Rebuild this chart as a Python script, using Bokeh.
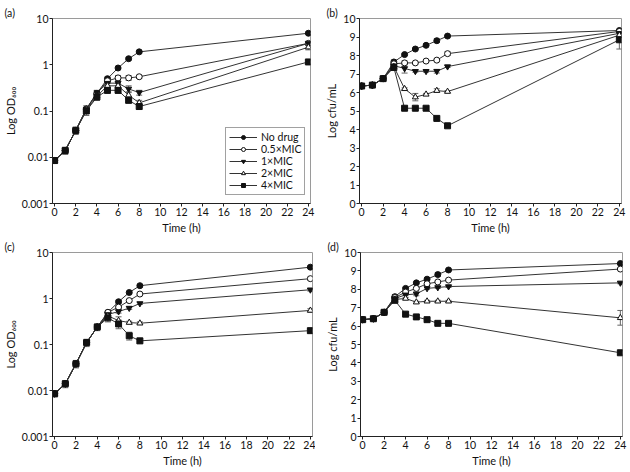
from bokeh.plotting import figure
from bokeh.layouts import column, row
from bokeh.models import (FixedTicker, CustomJSTickFormatter, Whisker, ColumnDataSource,
                          Legend, LegendItem, TeeHead, Range1d)
from bokeh.embed import file_html
from bokeh.resources import INLINE

TIME = [0, 1, 2, 3, 4, 5, 6, 7, 8, 24]
SERIES = ["No drug", "0.5\u00d7MIC", "1\u00d7MIC", "2\u00d7MIC", "4\u00d7MIC"]
X_TICKS = [0, 2, 4, 6, 8, 10, 12, 14, 16, 18, 20, 22, 24]
OD_TICKS = [0.001, 0.01, 0.1, 1, 10]
CFU_TICKS = [0, 1, 2, 3, 4, 5, 6, 7, 8, 9, 10]

# Panel (a): OD600
A_NODRUG = [0.0085, 0.014, 0.038, 0.11, 0.24, 0.50, 0.85, 1.35, 1.9, 4.8]
A_HALF = [0.0085, 0.014, 0.038, 0.11, 0.24, 0.45, 0.52, 0.52, 0.55, 2.9]
A_ONE = [0.0085, 0.014, 0.038, 0.11, 0.25, 0.40, 0.40, 0.30, 0.25, 2.9]
A_TWO = [0.0085, 0.014, 0.038, 0.105, 0.21, 0.35, 0.35, 0.22, 0.15, 2.4]
A_FOUR = [0.0085, 0.014, 0.038, 0.10, 0.20, 0.28, 0.28, 0.17, 0.125, 1.15]
A_ERR_NODRUG = [0.0012, 0.0025, 0.007, 0.02, 0.04, 0.04, 0.06, 0.08, 0.1, 0.3]
A_ERR_HALF = [0, 0, 0, 0, 0, 0.05, 0.06, 0.06, 0.04, 0.3]
A_ERR_ONE = [0, 0, 0, 0, 0, 0.05, 0.05, 0.05, 0.03, 0.3]
A_ERR_TWO = [0, 0, 0, 0, 0, 0.05, 0.04, 0.04, 0.02, 0.3]
A_ERR_FOUR = [0, 0, 0, 0.02, 0.03, 0.04, 0.04, 0.02, 0.015, 0.1]

# Panel (b): cfu
B_NODRUG = [6.35, 6.4, 6.75, 7.65, 8.05, 8.35, 8.55, 8.8, 9.05, 9.35]
B_HALF = [6.35, 6.4, 6.75, 7.55, 7.6, 7.6, 7.7, 7.75, 8.1, 9.3]
B_ONE = [6.35, 6.4, 6.75, 7.45, 7.3, 7.15, 7.15, 7.15, 7.4, 9.2]
B_TWO = [6.35, 6.4, 6.75, 7.4, 6.2, 5.75, 5.9, 6.1, 6.05, 9.1]
B_FOUR = [6.35, 6.4, 6.75, 7.35, 5.15, 5.15, 5.15, 4.6, 4.2, 8.85]
B_ERR_NODRUG = [0.05, 0.05, 0.1, 0.1, 0.05, 0.05, 0.05, 0.1, 0.05, 0.05]
B_ERR_HALF = [0, 0, 0, 0.05, 0.1, 0.05, 0.05, 0.05, 0.1, 0.1]
B_ERR_ONE = [0, 0, 0, 0.05, 0.25, 0.05, 0.05, 0.1, 0.05, 0.1]
B_ERR_TWO = [0, 0, 0, 0.05, 0.05, 0.2, 0.05, 0.1, 0.05, 0.1]
B_ERR_FOUR = [0, 0, 0, 0.05, 0.1, 0.05, 0.05, 0.05, 0.05, 0.5]

# Panel (c): OD600
C_NODRUG = [0.0085, 0.014, 0.038, 0.11, 0.24, 0.50, 0.85, 1.35, 1.9, 4.8]
C_HALF = [0.0085, 0.014, 0.038, 0.11, 0.24, 0.50, 0.65, 0.90, 1.25, 2.7]
C_ONE = [0.0085, 0.014, 0.038, 0.11, 0.24, 0.45, 0.52, 0.62, 0.78, 1.55]
C_TWO = [0.0085, 0.014, 0.038, 0.11, 0.24, 0.42, 0.33, 0.30, 0.29, 0.55]
C_FOUR = [0.0085, 0.014, 0.038, 0.11, 0.24, 0.38, 0.28, 0.155, 0.12, 0.20]
C_ERR_NODRUG = [0.0012, 0.0025, 0.007, 0.02, 0.04, 0.04, 0.06, 0.08, 0.1, 0.3]
C_ERR_HALF = [0, 0, 0, 0, 0, 0.04, 0.05, 0.05, 0.05, 0.2]
C_ERR_ONE = [0, 0, 0, 0, 0, 0.04, 0.04, 0.04, 0.04, 0.1]
C_ERR_TWO = [0, 0, 0, 0, 0, 0.04, 0.07, 0.02, 0.02, 0.05]
C_ERR_FOUR = [0, 0, 0, 0, 0.03, 0.07, 0.06, 0.03, 0.015, 0.02]

# Panel (d): cfu
D_NODRUG = [6.35, 6.4, 6.75, 7.6, 8.05, 8.35, 8.55, 8.8, 9.05, 9.4]
D_HALF = [6.35, 6.4, 6.75, 7.55, 7.85, 8.05, 8.3, 8.4, 8.5, 9.1]
D_ONE = [6.35, 6.4, 6.75, 7.5, 7.7, 7.75, 8.05, 8.1, 8.15, 8.35]
D_TWO = [6.35, 6.4, 6.75, 7.45, 7.5, 7.3, 7.35, 7.35, 7.35, 6.45]
D_FOUR = [6.35, 6.4, 6.75, 7.4, 6.65, 6.5, 6.35, 6.15, 6.15, 4.55]
D_ERR_NODRUG = [0.05, 0.05, 0.1, 0.1, 0.05, 0.05, 0.05, 0.1, 0.05, 0.05]
D_ERR_HALF = [0, 0, 0, 0.05, 0.1, 0.05, 0.05, 0.05, 0.05, 0.05]
D_ERR_ONE = [0, 0, 0, 0.05, 0.05, 0.1, 0.05, 0.05, 0.05, 0.05]
D_ERR_TWO = [0, 0, 0, 0.05, 0.05, 0.05, 0.05, 0.05, 0.05, 0.4]
D_ERR_FOUR = [0, 0, 0, 0.05, 0.12, 0.1, 0.05, 0.05, 0.05, 0.1]

MARKERS = ["circle", "circle", "inverted_triangle", "triangle", "square"]
FILLS = ["#111111", "white", "#111111", "white", "#111111"]

FONT = "Lato"


def make_panel(label, ylog, series, errs, yticks, ylabel, bl, br, bt, bb, lab_off, legend=False):
    kw = dict(width=315, height=236, output_backend="svg", toolbar_location=None,
              x_range=Range1d(-0.2, 24.2), min_border_left=bl, min_border_right=br,
              min_border_top=bt, min_border_bottom=bb, title=label)
    if ylog:
        p = figure(y_axis_type="log", y_range=Range1d(0.001, 10), **kw)
    else:
        p = figure(y_range=Range1d(0, 10), **kw)
    p.title.align = "left"
    p.title.offset = lab_off
    p.title.standoff = 0
    p.title.text_font = FONT
    p.title.text_font_size = "10.5px"
    p.title.text_font_style = "normal"
    p.title.text_color = "#111111"
    p.grid.visible = False
    p.outline_line_color = "#9a9a9a"
    p.background_fill_color = "white"
    p.border_fill_color = "white"
    for ax in (p.xaxis[0], p.yaxis[0]):
        ax.axis_line_color = "#222222"
        ax.major_tick_line_color = "#222222"
        ax.major_tick_out = 3
        ax.major_tick_in = 0
        ax.minor_tick_line_color = None
        ax.major_label_text_font = FONT
        ax.major_label_text_font_size = "10.5px"
        ax.major_label_text_color = "#111111"
        ax.major_label_standoff = 1
        ax.axis_label_text_font = FONT
        ax.axis_label_text_font_size = "11px"
        ax.axis_label_text_font_style = "normal"
        ax.axis_label_text_color = "#111111"
        ax.axis_label_standoff = 2
    p.xaxis.ticker = FixedTicker(ticks=X_TICKS)
    p.yaxis.ticker = FixedTicker(ticks=yticks)
    if ylog:
        p.yaxis.formatter = CustomJSTickFormatter(code="return String(Number(tick.toPrecision(3)));")
    p.xaxis.axis_label = "Time (h)"
    p.yaxis.axis_label = ylabel

    items = []
    for name, ys, es, mk, fc in zip(SERIES, series, errs, MARKERS, FILLS):
        lo = [y - e for y, e in zip(ys, es)]
        hi = [y + e for y, e in zip(ys, es)]
        src = ColumnDataSource(dict(x=TIME, y=ys))
        esrc = ColumnDataSource(dict(x=[t for t, e in zip(TIME, es) if e > 0],
                                     lo=[l for l, e in zip(lo, es) if e > 0],
                                     hi=[h for h, e in zip(hi, es) if e > 0]))
        w = Whisker(base="x", lower="lo", upper="hi", source=esrc, dimension="height",
                    line_color="#666666", line_width=1,
                    upper_head=TeeHead(size=6, line_color="#666666", line_width=1),
                    lower_head=TeeHead(size=6, line_color="#666666", line_width=1))
        p.add_layout(w)
        r1 = p.line("x", "y", source=src, line_color="#333333", line_width=1)
        r2 = p.scatter("x", "y", source=src, marker=mk, size=6,
                       fill_color=fc, line_color="#111111", line_width=1)
        items.append(LegendItem(label=name, renderers=[r1, r2]))

    if legend:
        leg = Legend(items=items, location=(173, 8), label_text_font=FONT,
                     label_text_font_size="10.5px", label_text_color="#111111",
                     glyph_width=28, glyph_height=10, label_height=10, spacing=-2,
                     padding=3, margin=0, label_standoff=4,
                     border_line_color="#444444", border_line_width=1,
                     background_fill_color="white", background_fill_alpha=1)
        p.add_layout(leg)
    return p


pa = make_panel("(a)", True, [A_NODRUG, A_HALF, A_ONE, A_TWO, A_FOUR],
                [A_ERR_NODRUG, A_ERR_HALF, A_ERR_ONE, A_ERR_TWO, A_ERR_FOUR],
                OD_TICKS, "Log OD\u2086\u2080\u2080", 49, 5, 18, 32, -48, legend=True)
pb = make_panel("(b)", False, [B_NODRUG, B_HALF, B_ONE, B_TWO, B_FOUR],
                [B_ERR_NODRUG, B_ERR_HALF, B_ERR_ONE, B_ERR_TWO, B_ERR_FOUR],
                CFU_TICKS, "Log cfu/mL", 44, 9, 18, 32, -33)
pc = make_panel("(c)", True, [C_NODRUG, C_HALF, C_ONE, C_TWO, C_FOUR],
                [C_ERR_NODRUG, C_ERR_HALF, C_ERR_ONE, C_ERR_TWO, C_ERR_FOUR],
                OD_TICKS, "Log OD\u2086\u2080\u2080", 49, 3, 16, 36, -48)
pd_ = make_panel("(d)", False, [D_NODRUG, D_HALF, D_ONE, D_TWO, D_FOUR],
                 [D_ERR_NODRUG, D_ERR_HALF, D_ERR_ONE, D_ERR_TWO, D_ERR_FOUR],
                 CFU_TICKS, "Log cfu/mL", 45, 8, 15, 36, -33)

layout = column(row(pa, pb), row(pc, pd_))
open("out.html", "w").write(file_html(layout, INLINE))
